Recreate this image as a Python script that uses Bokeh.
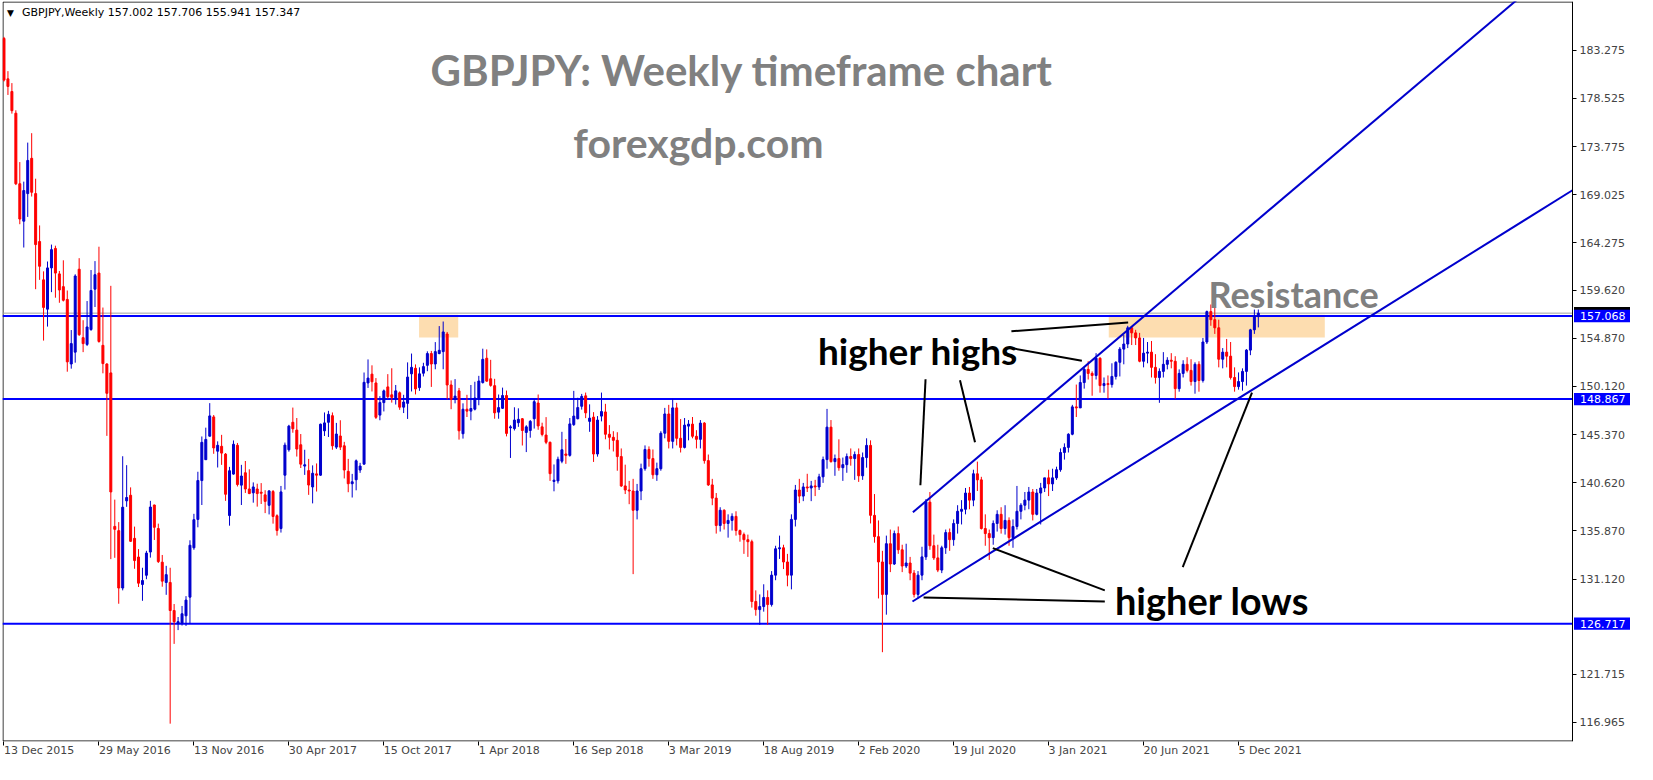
from bokeh.plotting import figure
from bokeh.models import (Range1d, FixedTicker, Label, BoxAnnotation, ColumnDataSource,
                          NumeralTickFormatter, LinearAxis)
from bokeh.embed import file_html
from bokeh.resources import INLINE

# weekly OHLC, bar 0 = week of 13 Dec 2015
opens = [184.45,180.46,179.21,177.07,170.11,166.42,169.14,172.62,169.14,164.41,
 160.63,157.74,161.81,163.73,161.22,159.96,158.70,152.33,153.50,161.68,
 154.93,154.26,155.73,159.71,161.30,154.17,152.33,151.45,136.31,135.89,
 130.23,138.83,139.38,135.13,133.29,130.58,131.49,133.78,138.42,136.10,
 132.78,130.78,130.78,128.01,126.72,126.78,127.49,129.33,134.20,137.00,
 140.83,142.89,145.21,147.11,143.73,144.21,143.44,137.38,141.47,144.31,
 140.38,141.60,140.00,139.62,140.00,139.68,139.42,138.39,139.75,137.36,
 136.10,141.36,143.87,146.58,145.81,144.36,142.26,141.81,140.20,141.49,
 141.36,145.74,146.58,147.23,144.13,145.23,144.26,141.74,140.52,140.91,
 141.87,142.45,150.46,151.33,150.46,147.29,148.52,150.07,149.29,148.91,
 149.49,148.07,148.45,151.36,151.91,150.00,151.42,152.20,153.36,152.33,
 153.36,153.55,155.29,150.26,148.84,149.68,145.45,147.87,147.68,147.87,
 148.91,150.50,152.90,150.87,150.19,147.58,147.96,149.22,146.03,145.96,
 146.54,146.93,145.58,145.77,146.93,148.48,146.13,145.32,144.61,140.74,
 140.80,142.74,143.45,143.32,146.35,146.93,148.16,149.19,146.67,147.09,
 143.45,147.19,
 147.60,145.40,145.10,144.80,143.20,140.30,139.90,139.80,137.90,139.80,
 142.00,143.90,143.00,141.40,142.00,145.50,147.40,144.70,148.00,145.00,
 144.10,146.20,146.40,145.20,144.90,146.50,142.80,140.40,139.10,136.40,
 137.90,136.60,136.90,137.30,135.90,135.50,135.00,134.80,128.90,128.10,
 128.40,129.30,128.60,131.50,134.10,134.20,132.80,131.50,137.00,139.90,
 139.30,140.20,140.10,140.30,140.20,141.20,142.90,146.10,142.70,143.00,
 142.10,142.40,143.20,143.00,143.40,141.30,143.10,144.30,137.40,135.30,
 132.80,129.60,134.60,132.60,135.60,134.00,132.40,132.70,131.70,129.60,
 131.50,133.30,138.70,134.40,133.20,132.00,134.20,135.70,135.00,136.60,
 137.80,138.00,139.60,138.90,141.50,140.90,136.10,135.60,135.20,136.60,
 137.50,136.10,136.90,135.20,136.30,137.80,138.40,138.90,139.70,137.50,
 139.60,140.10,141.10,140.50,141.10,141.90,143.60,144.10,145.40,148.10,
 148.00,150.50,151.80,151.40,151.20,152.90,150.20,150.40,150.30,151.10,
 152.50,153.80,154.30,155.90,155.40,154.90,152.60,153.40,153.50,152.00,
 151.00,151.60,152.30,152.70,152.60,149.90,151.40,152.30,151.70,150.60,
 152.30,150.70,154.50,157.50,156.70,155.90,152.80,153.50,153.10,151.00,
 150.10,150.60,151.60,153.70,155.70,157.002]
highs = [184.60,181.22,180.04,177.36,172.25,170.32,174.17,175.10,170.61,166.00,
 161.47,162.44,164.11,164.00,161.51,162.56,159.58,155.68,161.18,162.77,
 156.65,158.54,161.60,162.48,163.90,157.90,152.40,160.04,138.95,136.73,
 143.23,142.35,140.16,136.29,134.07,132.23,133.90,138.83,138.45,136.58,
 133.49,132.42,132.23,128.65,127.37,128.46,129.43,134.94,137.55,141.70,
 145.18,146.05,148.47,147.30,144.70,145.34,143.55,142.18,144.79,144.54,
 142.38,142.76,141.94,140.65,140.52,140.58,139.88,139.88,139.90,137.50,
 140.30,144.58,146.33,148.03,147.00,145.42,143.87,142.97,142.33,142.52,
 146.45,147.55,147.71,147.55,146.52,146.78,144.65,142.97,141.49,142.91,
 142.58,151.49,152.78,152.20,150.94,149.16,149.81,151.33,151.91,150.26,
 149.62,149.29,152.49,153.36,152.29,152.00,152.45,153.58,153.62,154.49,
 156.07,156.52,155.49,150.71,150.84,149.97,148.45,149.29,150.26,150.58,
 151.16,153.84,153.77,152.74,150.87,149.32,150.00,149.71,146.29,148.06,
 147.96,147.00,146.29,146.80,148.87,149.32,146.54,147.09,144.67,142.42,
 143.19,145.64,144.93,147.00,149.68,149.00,149.38,149.51,148.35,147.58,
 147.19,149.51,
 148.40,146.30,145.70,145.60,144.00,142.40,140.80,141.00,140.50,142.50,
 144.30,144.20,143.90,142.60,145.70,148.00,148.30,148.90,148.50,146.90,
 147.00,146.80,147.10,145.80,146.80,146.60,143.40,141.00,139.60,138.20,
 138.00,137.50,137.60,137.80,136.00,135.70,135.50,135.00,130.00,129.60,
 130.60,130.00,131.90,134.40,135.40,134.50,133.60,137.50,140.40,141.00,
 140.60,141.50,140.80,140.90,141.50,143.20,147.90,146.80,143.40,144.90,
 143.10,143.50,144.00,143.70,144.00,143.60,145.00,144.80,139.50,136.90,
 133.90,135.40,136.00,135.90,136.30,134.50,134.60,133.30,132.00,131.90,
 134.30,139.00,139.70,135.50,134.50,134.40,136.00,136.10,137.00,138.40,
 138.90,140.10,140.20,141.90,142.70,141.20,137.50,136.00,136.90,137.90,
 138.20,138.40,137.20,137.00,140.30,138.60,139.70,140.20,140.00,140.00,
 140.60,141.00,141.90,142.00,142.20,144.00,144.50,145.50,148.30,150.30,
 151.20,152.00,152.60,151.60,153.40,153.00,151.00,151.20,152.40,152.60,
 154.00,155.20,156.10,156.00,155.70,155.40,154.90,154.50,154.60,153.30,
 151.90,153.50,153.00,153.40,153.10,151.80,152.70,153.00,152.80,152.50,
 152.60,154.90,157.60,158.20,158.00,156.70,153.90,154.80,154.50,152.00,
 151.50,151.90,153.80,155.80,157.70,157.706]
lows = [180.20,178.87,177.03,169.98,166.12,163.82,166.84,168.85,159.71,160.63,
 154.64,156.02,159.42,158.87,158.37,158.50,151.57,151.87,152.46,155.10,
 153.50,154.10,155.60,157.95,154.43,151.41,145.24,133.08,133.21,128.68,
 130.00,138.24,134.78,132.13,130.33,128.97,131.10,133.23,134.97,132.70,
 130.36,129.56,116.85,124.72,126.08,126.53,126.49,126.70,134.00,136.22,
 138.42,142.86,145.18,143.47,142.12,142.38,138.83,136.38,141.41,140.25,
 138.42,139.61,139.49,138.65,138.26,138.52,137.62,137.49,136.58,135.40,
 135.70,139.94,143.68,145.55,143.20,142.07,141.39,139.42,138.58,139.75,
 141.30,145.23,145.13,143.87,143.94,143.84,141.04,139.68,139.16,139.87,
 141.59,142.40,149.97,149.62,146.91,146.78,147.65,148.91,148.52,148.33,
 147.81,147.49,146.91,149.62,149.33,149.68,151.10,151.62,150.07,151.81,
 153.29,151.81,148.84,147.87,148.45,144.87,144.97,147.10,146.78,147.75,
 148.26,150.40,150.58,150.09,146.93,146.93,147.90,145.19,143.06,145.77,
 146.13,144.29,143.64,145.06,145.96,145.84,145.19,144.42,140.80,139.77,
 140.54,142.54,142.48,143.19,146.22,146.87,147.83,146.99,145.64,142.67,
 143.19,146.67,
 144.90,143.90,143.70,141.80,140.20,139.50,138.50,131.60,137.00,138.90,
 141.80,142.20,141.00,140.80,141.80,145.00,144.00,144.00,144.30,143.60,
 144.00,144.80,145.00,144.00,144.00,142.50,140.30,138.40,135.60,135.80,
 136.00,135.20,135.90,135.40,134.80,133.60,133.30,128.30,127.50,126.60,
 127.90,126.60,128.40,131.00,133.10,132.10,130.40,130.10,136.30,138.60,
 138.80,139.70,138.80,139.30,139.90,140.60,142.00,142.60,141.30,141.80,
 140.80,141.60,142.30,140.90,140.70,140.90,142.10,136.60,134.70,129.20,
 123.90,127.60,131.80,132.50,133.60,131.80,132.20,131.00,129.30,129.20,
 131.00,133.00,134.00,133.00,131.80,131.70,133.60,133.90,134.40,135.60,
 136.50,137.50,138.00,138.30,139.80,136.00,134.40,133.00,134.50,135.80,
 135.60,135.50,134.40,134.20,136.00,137.00,137.90,138.00,136.90,137.40,
 136.50,139.70,139.30,139.80,140.90,141.70,142.90,143.60,145.30,147.10,
 148.00,149.90,150.80,149.20,150.80,149.50,149.50,148.90,150.00,150.80,
 151.10,152.30,153.90,154.20,154.20,152.50,152.00,152.40,151.00,150.40,
 148.50,151.00,151.80,151.90,148.90,149.60,151.00,151.50,150.20,149.40,
 149.60,150.50,154.30,156.10,155.30,152.00,151.90,152.00,150.80,149.60,
 149.80,149.70,150.20,153.20,155.30,155.941]
closes = [180.34,179.71,177.32,170.11,166.63,169.44,172.41,169.27,164.11,161.97,
 157.91,161.81,163.61,161.30,159.63,158.62,152.54,154.34,161.01,155.22,
 154.34,155.98,159.58,161.14,154.55,152.37,149.44,139.71,136.02,130.23,
 138.20,139.16,134.84,132.94,130.71,130.97,133.68,138.22,136.22,132.84,
 130.91,131.55,128.01,126.91,126.91,127.69,129.04,134.45,136.97,140.83,
 144.60,144.89,147.21,144.05,144.31,143.54,139.48,141.80,144.41,140.44,
 141.28,140.00,139.55,140.20,139.55,139.58,138.78,139.81,137.29,135.90,
 139.71,144.33,146.20,145.94,143.94,142.45,142.39,140.39,141.55,141.36,
 146.39,146.52,147.36,144.26,145.42,144.13,141.87,140.52,140.71,142.78,
 142.26,150.52,150.94,150.58,147.07,148.52,149.68,149.10,149.04,149.68,
 148.07,148.58,151.04,152.00,149.87,151.36,152.07,153.36,152.33,153.55,
 153.68,155.49,150.26,148.84,149.16,145.74,147.87,147.68,147.94,148.97,
 150.65,152.79,150.64,150.22,147.51,148.03,149.22,145.48,146.13,146.80,
 146.87,145.77,146.13,146.67,148.61,146.22,145.38,144.61,141.51,140.87,
 142.93,143.87,143.32,146.42,147.19,148.03,149.13,147.51,146.99,143.45,
 146.80,147.64,
 145.40,145.10,144.80,143.20,140.30,139.90,139.80,137.90,139.80,142.00,
 143.90,143.00,141.40,142.00,145.50,147.40,144.70,148.00,145.00,144.10,
 146.30,146.40,145.20,144.90,146.50,142.80,140.40,139.10,136.40,137.90,
 136.60,136.90,137.30,135.90,135.50,135.00,134.80,128.90,128.10,128.40,
 129.30,128.60,131.50,134.10,134.20,132.80,131.50,137.00,139.90,139.30,
 140.20,140.10,140.30,140.20,141.20,142.90,146.10,142.70,143.00,142.10,
 142.40,143.20,143.00,143.40,141.30,143.10,144.30,137.40,135.30,132.80,
 129.60,134.60,132.60,135.60,134.00,132.40,132.70,131.70,129.60,131.50,
 133.30,138.70,134.40,133.20,132.00,134.20,135.70,135.00,136.60,137.80,
 138.00,139.60,138.90,141.50,140.90,136.10,135.60,135.20,136.60,137.50,
 136.10,136.90,135.20,136.30,137.80,138.40,138.90,139.70,137.50,139.60,
 140.10,141.10,140.50,141.10,141.90,143.60,144.10,145.40,148.10,148.00,
 150.50,151.80,151.40,151.20,152.90,150.20,150.40,150.30,151.10,152.50,
 153.80,154.30,155.90,155.40,154.90,152.60,153.40,153.50,152.00,151.00,
 151.60,152.30,152.70,152.60,149.90,151.40,152.30,151.70,150.60,152.30,
 150.70,154.50,157.50,156.70,155.90,152.80,153.50,153.10,151.00,150.10,
 150.60,151.60,153.70,155.70,157.00,157.347]

date_ticks = [0, 24, 48, 72, 96, 120, 144, 168, 192, 216, 240, 264, 288, 312]
date_labels = ["13 Dec 2015", "29 May 2016", "13 Nov 2016", "30 Apr 2017", "15 Oct 2017",
               "1 Apr 2018", "16 Sep 2018", "3 Mar 2019", "18 Aug 2019", "2 Feb 2020",
               "19 Jul 2020", "3 Jan 2021", "20 Jun 2021", "5 Dec 2021"]
price_ticks = [183.275, 178.525, 173.775, 169.025, 164.275, 159.620, 154.870,
               150.120, 145.370, 140.620, 135.870, 131.120, 121.715, 116.965]
levels = [157.068, 148.867, 126.717]
last_price = 157.347
header = "GBPJPY,Weekly  157.002 157.706 155.941 157.347"

# analyst drawings (bar index, price)
channel_upper = ([229.7, 382.5], [137.7, 188.3])
channel_lower = ([229.6, 396.4], [128.9, 169.47])
pointer_x = [[254.6, 284.1], [254.6, 272.4], [232.9, 231.6], [241.6, 245.4],
             [278.2, 249.9], [278.2, 232.4], [297.9, 315.4]]
pointer_y = [[155.55, 156.43], [153.9, 152.66], [150.82, 140.37], [150.72, 144.62],
             [130.0, 134.16], [128.9, 129.3], [132.3, 149.5]]
zones = [(104.9, 114.8), (279.2, 333.8)]
zone_top, zone_bottom = 157.2, 154.95

BULL = "#0000CD"
BEAR = "#FF0000"
LEVEL = "#0000FF"

# geometry: chart area = bars -0.375 .. 396.4, price axis at its right edge
X0, XAXIS = -0.375, 396.4
Y0, Y1 = 115.09, 188.09
CHART_W = 1570
FW, FH = 1633, 740
px_per_bar = CHART_W / (XAXIS - X0)
px_per_unit = FH / (Y1 - Y0)
X1 = X0 + FW / px_per_bar

n = len(opens)
xs = list(range(n))
cols = [BULL if c >= o else BEAR for o, c in zip(opens, closes)]
src = ColumnDataSource(dict(x=xs, h=highs, l=lows,
                            top=[max(o, c) for o, c in zip(opens, closes)],
                            bot=[min(o, c) for o, c in zip(opens, closes)],
                            col=cols))

p = figure(frame_width=FW, frame_height=FH,
           x_range=Range1d(X0, X1), y_range=Range1d(Y0, Y1),
           output_backend="svg", toolbar_location=None, y_axis_location=None,
           min_border_left=2, min_border_top=1, min_border_right=2, min_border_bottom=0,
           background_fill_color="white", border_fill_color="white")
p.xgrid.visible = False
p.ygrid.visible = False
p.outline_line_color = None

for z0, z1 in zones:
    p.add_layout(BoxAnnotation(left=z0, right=z1, bottom=zone_bottom, top=zone_top,
                               fill_color="#FDDDB0", fill_alpha=1, line_alpha=0, level="underlay"))

# chart border (left, top, bottom); right edge is the price axis
inset_x = 0.5 / px_per_bar
inset_y = 0.5 / px_per_unit
p.line([XAXIS, X0 + inset_x, X0 + inset_x, XAXIS],
       [Y1 - inset_y, Y1 - inset_y, Y0 + inset_y, Y0 + inset_y], line_color="black", line_width=1)

# level lines
p.segment(x0=X0, x1=XAXIS, y0=last_price, y1=last_price, line_color="#A0A0A0", line_width=1)
p.segment(x0=[X0] * len(levels), x1=[XAXIS] * len(levels), y0=levels, y1=levels,
          line_color=LEVEL, line_width=2)

# candles
p.segment("x", "h", "x", "l", line_color="col", line_width=1, source=src)
p.vbar(x="x", width=0.5, top="top", bottom="bot", fill_color="col", line_color="col",
       line_width=1, source=src)

p.line(channel_upper[0], channel_upper[1], line_color="#0000CD", line_width=2)
p.line(channel_lower[0], channel_lower[1], line_color="#0000CD", line_width=2)
p.multi_line(pointer_x, pointer_y, line_color="black", line_width=2)

# price axis on the right edge of the chart
yax = LinearAxis(fixed_location=XAXIS, ticker=FixedTicker(ticks=price_ticks),
                 formatter=NumeralTickFormatter(format="0.000"))
yax.major_label_text_font = "DejaVu Sans"
yax.major_label_text_font_size = "11px"
yax.major_tick_in = 0
yax.major_tick_out = 4
yax.minor_tick_out = 0
yax.minor_tick_in = 0
yax.major_label_standoff = 3
yax.axis_line_color = "black"
p.add_layout(yax, "right")

xax = p.xaxis[0]
xax.ticker = FixedTicker(ticks=date_ticks)
xax.major_label_overrides = {t: s for t, s in zip(date_ticks, date_labels)}
xax.major_label_orientation = -0.0001
xax.major_label_text_font = "DejaVu Sans"
xax.major_label_text_font_size = "11px"
xax.axis_line_color = None
xax.major_tick_in = 0
xax.major_tick_out = 4
xax.minor_tick_out = 0
xax.minor_tick_in = 0
xax.major_label_standoff = 5

# price tags beside the axis
tag_l = XAXIS + 1.5 / px_per_bar
tag_r = tag_l + 56 / px_per_bar
half = 6.2 / px_per_unit
p.add_layout(BoxAnnotation(left=tag_l, right=tag_r, bottom=last_price - half, top=last_price + half,
                           fill_color="black", fill_alpha=1, line_alpha=0))
for lv in levels:
    p.add_layout(BoxAnnotation(left=tag_l, right=tag_r, bottom=lv - half, top=lv + half,
                               fill_color=LEVEL, fill_alpha=1, line_alpha=0))
    p.add_layout(Label(x=tag_l, y=lv, x_offset=6, text=f"{lv:.3f}", text_baseline="middle",
                       text_font="DejaVu Sans", text_font_size="11px", text_color="white"))

p.add_layout(Label(x=0.0, y=187.0, text="\u25bc", x_offset=3, text_baseline="middle",
                   text_font="DejaVu Sans", text_font_size="9px", text_color="black"))
p.add_layout(Label(x=0.0, y=187.0, text=header, x_offset=18, text_baseline="middle",
                   text_font="DejaVu Sans", text_font_size="11px", text_color="black"))

def big(x, y, txt, size, color, style="bold"):
    p.add_layout(Label(x=x, y=y, text=txt, text_align="center", text_baseline="middle",
                       text_font="Lato", text_font_style=style, text_font_size=size,
                       text_color=color))

big(186.5, 181.3, "GBPJPY: Weekly timeframe chart", "42px", "#808080")
big(175.5, 174.2, "forexgdp.com", "41px", "#808080")
big(325.9, 159.2, "Resistance", "36px", "#808080")
big(231.0, 153.7, "higher highs", "37px", "black")
big(305.3, 129.0, "higher lows", "38px", "black")

open("out.html", "w").write(file_html(p, INLINE))
